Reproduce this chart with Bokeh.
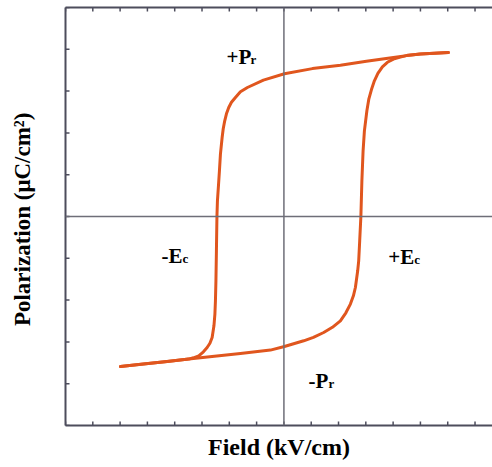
import math
from bokeh.plotting import figure
from bokeh.models import Range1d, LinearAxis, Span, Label, FixedTicker, Title
from bokeh.embed import file_html
from bokeh.resources import INLINE

# Descending-field branch (top right -> left -> down -> bottom left)
desc_field = [6.023, 5.511, 4.998, 4.486, 4.010, 3.021, 2.069, 1.044, 0.018, -0.751,
              -1.337, -1.593, -1.776, -1.922, -2.021, -2.105, -2.168, -2.223, -2.263,
              -2.325, -2.362, -2.398, -2.435, -2.453, -2.472, -2.490, -2.508, -2.527,
              -2.563, -2.629, -2.710, -2.812, -2.948, -3.120, -3.314, -3.486, -4.277,
              -5.145, -5.987]
desc_pol = [3.923, 3.907, 3.885, 3.849, 3.806, 3.713, 3.617, 3.538, 3.414, 3.263,
            3.086, 2.983, 2.847, 2.732, 2.608, 2.457, 2.289, 2.098, 1.890,
            1.493, 1.093, 0.734, 0.376, 0.000, -0.821, -1.538, -2.017, -2.328,
            -2.615, -2.895, -3.033, -3.134, -3.237, -3.333, -3.380, -3.411, -3.469,
            -3.529, -3.589]

# Ascending-field branch (bottom left -> right -> up -> top right)
asc_field = [-5.987, -5.145, -4.277, -3.486, -2.545, -1.593, -0.494, 0.018, 0.725,
             1.080, 1.457, 1.776, 2.069, 2.270, 2.435, 2.545, 2.618, 2.702, 2.739,
             2.776, 2.819, 2.856, 2.900, 2.948, 3.039, 3.112, 3.204, 3.314, 3.442,
             3.607, 3.790, 4.010, 4.266, 4.486, 4.998, 5.511, 6.023]
asc_pol = [-3.589, -3.529, -3.469, -3.411, -3.344, -3.280, -3.196, -3.110, -2.974,
           -2.890, -2.775, -2.651, -2.495, -2.304, -2.096, -1.897, -1.699, -1.299, -1.060,
           -0.581, 0.000, 0.854, 1.572, 2.050, 2.529, 2.816, 3.031, 3.246, 3.426,
           3.581, 3.689, 3.766, 3.813, 3.849, 3.885, 3.907, 3.923]

x_ticks = list(range(-8, 8))
y_ticks = list(range(-5, 6))

X_START, X_END = -8, 7.64
Y_START, Y_END = -5, 5

FONT = "Liberation Serif"
AXIS_COLOR = "#4d4d5c"
CURVE_COLOR = "#E0561E"

p = figure(width=492, height=467, output_backend="svg", toolbar_location=None,
           x_range=Range1d(X_START, X_END), y_range=Range1d(Y_START, Y_END),
           min_border_left=65, min_border_right=0, min_border_top=7,
           min_border_bottom=42,
           y_axis_label="Polarization  (μC/cm²)")

p.outline_line_color = None
p.xgrid.grid_line_color = None
p.ygrid.grid_line_color = None
p.background_fill_color = "white"
p.border_fill_color = "white"

for ax in (p.xaxis[0], p.yaxis[0]):
    ax.ticker = FixedTicker(ticks=[])
    ax.major_tick_line_color = None
    ax.minor_tick_line_color = None
    ax.axis_line_color = AXIS_COLOR
    ax.axis_line_width = 2
    ax.axis_label_text_font = FONT
    ax.axis_label_text_font_style = "bold"
    ax.axis_label_text_font_size = "23px"
    ax.axis_label_text_color = "black"

p.yaxis[0].axis_label_standoff = 31

top = LinearAxis(ticker=FixedTicker(ticks=[]), major_tick_line_color=None,
                 minor_tick_line_color=None,
                 axis_line_color=AXIS_COLOR, axis_line_width=2)
p.add_layout(top, "above")

# inward tick marks (half of each dash is clipped by the frame)
p.scatter(x_ticks, [Y_START] * len(x_ticks), marker="dash", angle=math.pi / 2, size=8,
          line_color=AXIS_COLOR, line_width=1.5)
p.scatter(x_ticks, [Y_END] * len(x_ticks), marker="dash", angle=math.pi / 2, size=8,
          line_color=AXIS_COLOR, line_width=1.5)
p.scatter([X_START] * len(y_ticks), y_ticks, marker="dash", size=8,
          line_color=AXIS_COLOR, line_width=1.5)

p.add_layout(Span(location=0, dimension="width", line_color="#6e6e78", line_width=1.5))
p.add_layout(Span(location=0, dimension="height", line_color="#6e6e78", line_width=1.5))

p.line(desc_field, desc_pol, line_color=CURVE_COLOR, line_width=3, line_join="round", line_cap="round")
p.line(asc_field, asc_pol, line_color=CURVE_COLOR, line_width=3, line_join="round", line_cap="round")

annotations = [
    ("+P", "r", -2.105, 3.82, 24),
    ("-E", "c", -4.486, -0.94, 21),
    ("+E", "c", 3.826, -0.964, 26),
    ("-P", "r", 0.897, -3.93, 20),
]
for main, sub, ax_, ay_, off in annotations:
    p.add_layout(Label(x=ax_, y=ay_, text=main, text_font=FONT, text_font_style="bold",
                       text_font_size="21px", text_color="black",
                       text_baseline="alphabetic", text_align="left"))
    p.add_layout(Label(x=ax_, y=ay_, x_offset=off, y_offset=-3, text=sub, text_font=FONT,
                       text_font_style="bold", text_font_size="13px", text_color="black",
                       text_baseline="alphabetic", text_align="left"))

# x-axis title, shifted so it is centred under the zero-field line
p.add_layout(Title(text="Field (kV/cm)", align="center", offset=5, standoff=13,
                   text_font=FONT, text_font_style="bold", text_font_size="24px",
                   text_color="black"), "below")

open("out.html", "w").write(file_html(p, INLINE))
